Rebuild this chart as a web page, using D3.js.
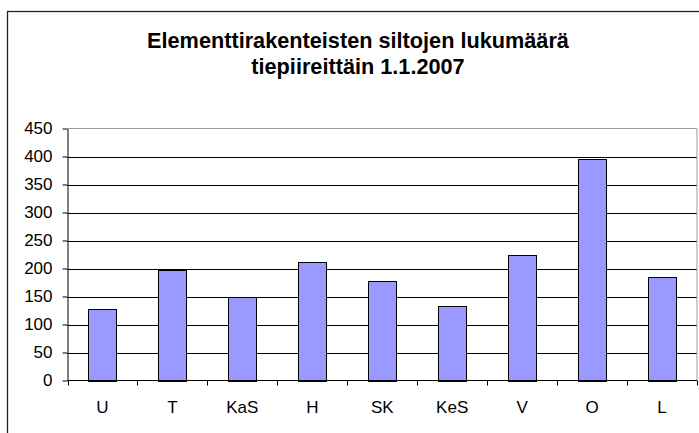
<!DOCTYPE html>
<html>
<head>
<meta charset="utf-8">
<script src="https://cdn.jsdelivr.net/npm/d3@7"></script>
<style>
  body { margin: 0; background: #fff; }
  text { font-family: "Liberation Sans", Arial, sans-serif; fill: #000; }
</style>
</head>
<body>
<div id="chart"></div>
<script>
var categories = ['U', 'T', 'KaS', 'H', 'SK', 'KeS', 'V', 'O', 'L'];
var values = [127, 197, 149, 212, 177, 133, 225, 395, 185];
var yTicks = [0, 50, 100, 150, 200, 250, 300, 350, 400, 450];
var titleLines = ['Elementtirakenteisten siltojen lukumäärä', 'tiepiireittäin 1.1.2007'];

var svgWidth = 699;
var svgHeight = 433;

var plot = {left: 67.5, right: 697, top: 128.5, bottom: 380.5};

var svg = d3.select('#chart')
    .append('svg')
    .attr('width', svgWidth)
    .attr('height', svgHeight);

// outer chart frame (runs off the right and bottom edges)
svg.append('rect')
    .attr('x', 7.5)
    .attr('y', 11.5)
    .attr('width', 800)
    .attr('height', 600)
    .attr('fill', 'none')
    .attr('stroke', '#222')
    .attr('stroke-width', 1.3);

// title
svg.append('text')
    .attr('x', 358)
    .attr('text-anchor', 'middle')
    .attr('font-size', '21.7px')
    .attr('font-weight', 'bold')
    .selectAll('tspan')
    .data(titleLines)
    .enter()
    .append('tspan')
    .attr('x', 358)
    .attr('y', (d, i) => 47.5 + i * 26.5)
    .text(d => d);

var x = d3.scaleBand()
    .domain(categories)
    .range([plot.left, plot.right])
    .paddingInner(0.6)
    .paddingOuter(0.3);

var y = d3.scaleLinear()
    .domain([0, 450])
    .range([plot.bottom, plot.top]);

// gridlines
svg.append('g')
    .selectAll('line')
    .data(yTicks.filter(d => d > 0 && d < 450))
    .enter()
    .append('line')
    .attr('x1', plot.left)
    .attr('x2', plot.right)
    .attr('y1', d => Math.round(y(d)) + 0.5)
    .attr('y2', d => Math.round(y(d)) + 0.5)
    .attr('stroke', '#000');

// plot area border (top and right, gray)
svg.append('path')
    .attr('d', `M${plot.left},${plot.top}H${plot.right}V${plot.bottom}`)
    .attr('fill', 'none')
    .attr('stroke', '#999');

// bars
svg.append('g')
    .selectAll('rect')
    .data(values)
    .enter()
    .append('rect')
    .attr('x', (d, i) => Math.round(x(categories[i])) + 0.5)
    .attr('y', d => Math.round(y(d)) + 0.5)
    .attr('width', Math.round(x.bandwidth()))
    .attr('height', d => Math.round(y(0)) - Math.round(y(d)))
    .attr('fill', '#9999ff')
    .attr('stroke', '#000');

// y axis
var yAxis = svg.append('g')
    .attr('transform', `translate(${plot.left},0)`)
    .call(d3.axisLeft(y).tickValues(yTicks).tickSize(5).tickPadding(10).tickSizeOuter(0));
yAxis.selectAll('text')
    .attr('font-size', '17px')
    .attr('font-family', '"Liberation Sans", Arial, sans-serif')
    .attr('fill', '#000');
yAxis.selectAll('line').attr('stroke', '#000');
yAxis.select('.domain').attr('stroke', '#000');

// x axis line and ticks at category boundaries
svg.append('line')
    .attr('x1', plot.left)
    .attr('x2', plot.right)
    .attr('y1', plot.bottom)
    .attr('y2', plot.bottom)
    .attr('stroke', '#000');

var boundaries = d3.range(categories.length + 1).map(i => plot.left + i * x.step());
svg.append('g')
    .selectAll('line')
    .data(boundaries)
    .enter()
    .append('line')
    .attr('x1', d => Math.round(d) + 0.5)
    .attr('x2', d => Math.round(d) + 0.5)
    .attr('y1', plot.bottom)
    .attr('y2', plot.bottom + 5)
    .attr('stroke', '#000');

// category labels
svg.append('g')
    .selectAll('text')
    .data(categories)
    .enter()
    .append('text')
    .attr('x', d => x(d) + x.bandwidth() / 2)
    .attr('y', 412.5)
    .attr('text-anchor', 'middle')
    .attr('font-size', '17px')
    .text(d => d);
</script>
</body>
</html>
